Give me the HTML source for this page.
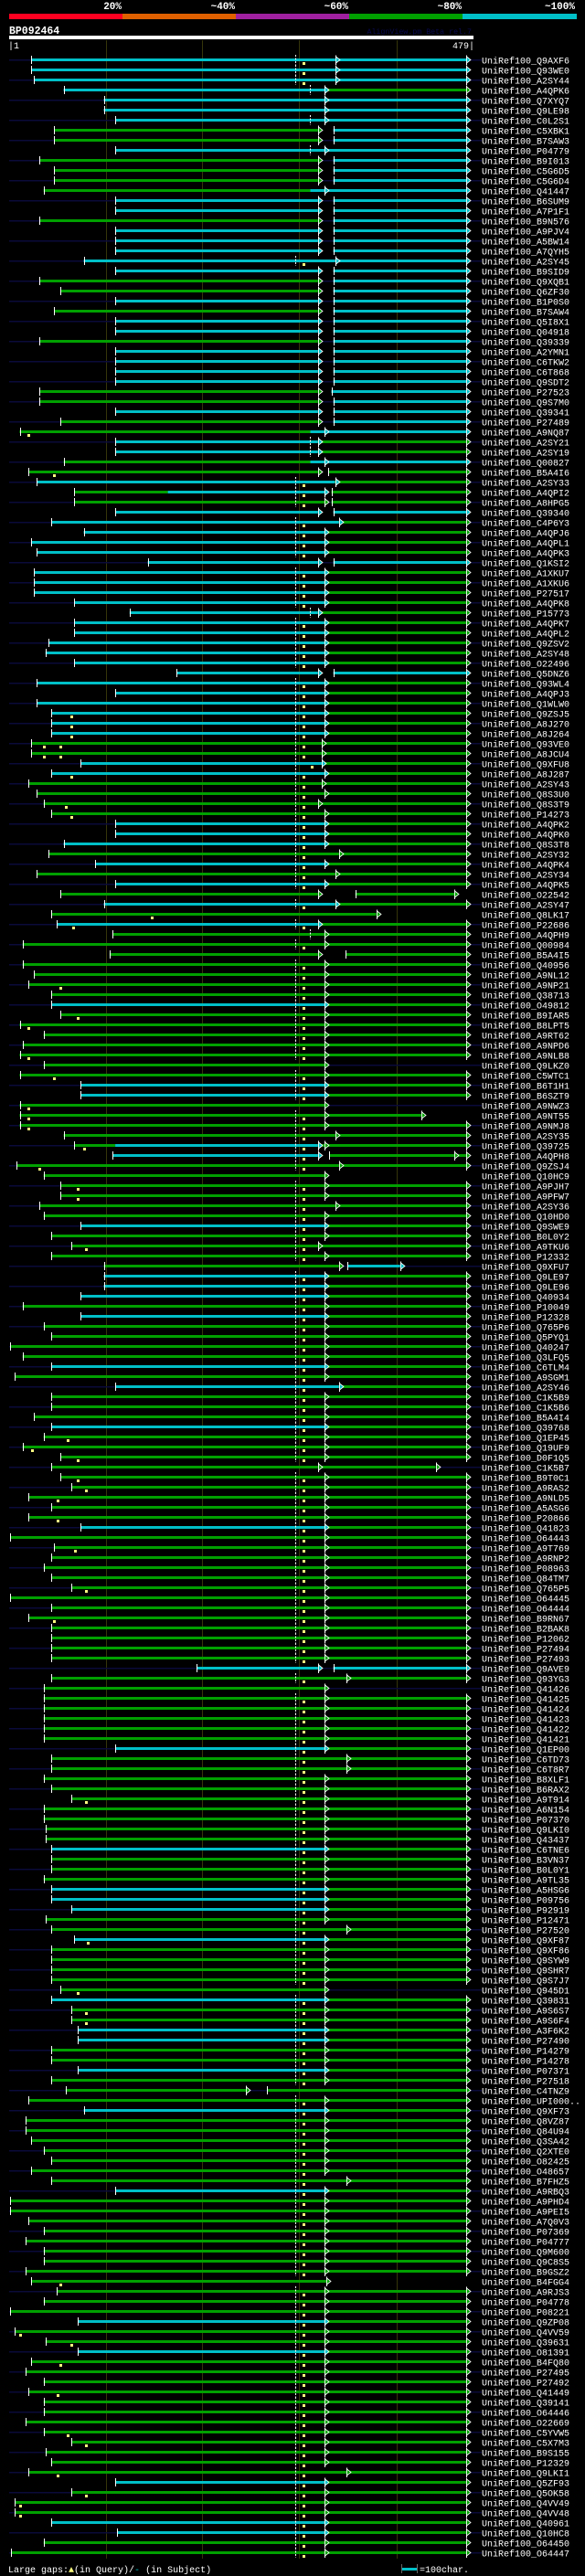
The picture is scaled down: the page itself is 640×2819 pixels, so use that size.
<!DOCTYPE html>
<html><head><meta charset="utf-8">
<style>
html,body{margin:0;padding:0;background:#000;}
svg{display:block;}
text{font-family:"Liberation Mono",monospace;}
</style></head>
<body>
<svg id="chart" width="640" height="2819" viewBox="0 0 640 2819" xmlns="http://www.w3.org/2000/svg">
<rect x="0" y="0" width="640" height="2819" fill="#000"/>
<g>
<rect x="10" y="15" width="124" height="6" fill="#ff0020"/>
<rect x="134" y="15" width="124" height="6" fill="#e06000"/>
<rect x="258" y="15" width="124" height="6" fill="#a020a0"/>
<rect x="382" y="15" width="124" height="6" fill="#00a000"/>
<rect x="506" y="15" width="125" height="6" fill="#00c0c8"/>
<text x="133" y="10" fill="#fff" font-size="11" font-weight="bold" text-anchor="end">20%</text>
<text x="257" y="10" fill="#fff" font-size="11" font-weight="bold" text-anchor="end">~40%</text>
<text x="381" y="10" fill="#fff" font-size="11" font-weight="bold" text-anchor="end">~60%</text>
<text x="505" y="10" fill="#fff" font-size="11" font-weight="bold" text-anchor="end">~80%</text>
<text x="629" y="10" fill="#fff" font-size="11" font-weight="bold" text-anchor="end">~100%</text>
</g>
<text x="10" y="37" fill="#fff" font-size="11.5" font-weight="bold">BP092464</text>
<text x="516" y="37" fill="#0a0a50" font-size="8.3" text-anchor="end">AlignView.pm Beta rel.7</text>
<rect x="10" y="39" width="508" height="4" fill="#fff"/>
<text x="9" y="53" fill="#fff" font-size="10">|1</text>
<text x="519" y="53" fill="#fff" font-size="10" text-anchor="end">479|</text>
<g id="grid"></g>
<g id="rows"></g>
<g>
<text x="9" y="2815" fill="#fff" font-size="10">Large gaps:<tspan fill="#ffff80">▲</tspan>(in Query)/<tspan fill="#00c0c8">-</tspan> (in Subject)</text>
<rect x="439" y="2810" width="17" height="3" fill="#00c0c8"/>
<rect x="439" y="2806" width="1" height="10" fill="#666"/>
<rect x="456" y="2806" width="1" height="10" fill="#666"/>
<text x="459" y="2815" fill="#fff" font-size="10">=100char.</text>
</g>
</svg>
<script>
const queryLength = [1, 479];
const gridTicks = [102, 203, 304, 406];
const names = [
"Q9AXF6","Q93WE0","A2SY44","A4QPK6","Q7XYQ7","Q9LE98","C0L2S1","C5XBK1","B7SAW3","P04779",
"B9I013","C5G6D5","C5G6D4","Q41447","B6SUM9","A7P1F1","B9N576","A9PJV4","A5BW14","A7QYH5",
"A2SY45","B9SID9","Q9XQB1","Q6ZF30","B1P0S0","B7SAW4","Q5I8X1","Q04918","Q39339","A2YMN1",
"C6TKW2","C6T868","Q9SDT2","P27523","Q9S7M0","Q39341","P27489","A9NQ87","A2SY21","A2SY19",
"Q00827","B5A4I6","A2SY33","A4QPI2","A8HPG5","Q39340","C4P6Y3","A4QPJ6","A4QPL1","A4QPK3",
"Q1KSI2","A1XKU7","A1XKU6","P27517","A4QPK8","P15773","A4QPK7","A4QPL2","Q9ZSV2","A2SY48",
"O22496","Q5DNZ6","Q93WL4","A4QPJ3","Q1WLW0","Q9ZSJ5","A8J270","A8J264","Q93VE0","A8JCU4",
"Q9XFU8","A8J287","A2SY43","Q8S3U0","Q8S3T9","P14273","A4QPK2","A4QPK0","Q8S3T8","A2SY32",
"A4QPK4","A2SY34","A4QPK5","O22542","A2SY47","Q8LK17","P22686","A4QPH9","Q00984","B5A4I5",
"Q40956","A9NL12","A9NP21","Q38713","O49812","B9IAR5","B8LPT5","A9RT62","A9NPD6","A9NLB8",
"Q9LKZ0","C5WTC1","B6T1H1","B6SZT9","A9NWZ3","A9NT55","A9NMJ8","A2SY35","Q39725","A4QPH8",
"Q9ZSJ4","Q10HC9","A9PJH7","A9PFW7","A2SY36","Q10HD0","Q9SWE9","B0L0Y2","A9TKU6","P12332",
"Q9XFU7","Q9LE97","Q9LE96","Q40934","P10049","P12328","Q765P6","Q5PYQ1","Q40247","Q3LFQ5",
"C6TLM4","A9SGM1","A2SY46","C1K5B9","C1K5B6","B5A4I4","Q39768","Q1EP45","Q19UF9","D0F1Q5",
"C1K5B7","B9T0C1","A9RAS2","A9NLD5","A5ASG6","P20866","Q41823","O64443","A9T769","A9RNP2",
"P08963","Q84TM7","Q765P5","O64445","O64444","B9RN67","B2BAK8","P12062","P27494","P27493",
"Q9AVE9","Q93YG3","Q41426","Q41425","Q41424","Q41423","Q41422","Q41421","Q1EP00","C6TD73",
"C6T8R7","B8XLF1","B6RAX2","A9T914","A6N154","P07370","Q9LKI0","Q43437","C6TNE6","B3VN37",
"B0L0Y1","A9TL35","A5HSG6","P09756","P92919","P12471","P27520","Q9XF87","Q9XF86","Q9SYW9",
"Q9SHR7","Q9S7J7","Q945D1","Q39831","A9S6S7","A9S6F4","A3F6K2","P27490","P14279","P14278",
"P07371","P27518","C4TNZ9","UPI000..","Q9XF73","Q8VZ87","Q84U94","Q3SA42","Q2XTE0","O82425",
"O48657","B7FHZ5","A9RBQ3","A9PHD4","A9PEI5","A7Q0V3","P07369","P04777","Q9M600","Q9C8S5",
"B9GSZ2","B4FGG4","A9RJS3","P04778","P08221","Q9ZP08","Q4VV59","Q39631","O81391","B4FQ80",
"P27495","P27492","Q41449","Q39141","O64446","O22669","C5YVW5","C5X7M3","B9S155","P12329",
"Q9LKI1","Q5ZF93","Q5OK58","Q4VV49","Q4VV48","Q40961","Q10HC8","O64450","O64447"
];
const aligns = [
"t24 c342> c479> d y","t24 c342> c479> d y","t27 c342> c479> d y","t58 c331> g479> e","t100 c331> c479>","t100 c331> c479>","t112 c331> c479> e","t48 W","t48 W","t112 c331> c479> e",
"t33 W","t48 W","t48 W","t37 g316 c331> c479>","t112 X","t112 X","t33 W","t112 X","t112 X","t112 X",
"t79 c342> c479> d y","t112 X","t33 W","t55 W","t112 X","t48 W","t112 X","t112 X","t33 W","t112 X",
"t112 X","t112 X","t112 X","t33 g324> t338 c479>","t33 W","t112 X","t55 W","t12 g316 c331> c479> y21","t112 c324> g479> e","t112 c324> g479> e",
"t58 g316 c331> c479>","t21 g324> t335 g479> y48","t30 c342> g479> d y","t69 g167 c331> t338 g479> d y","t69 g331> t338 g479> d y","t112 X","t45 c346> g479> d y","t79 C","t24 C","t30 C",
"t146 X","t27 C","t27 C","t27 C","t69 C","t127 c324> g479> e","t69 C","t69 C","t42 C","t39 C",
"t69 C","t176 X","t30 C","t112 C","t30 C","t45 C y66","t45 C y66","t45 C y66","t24 g328> g479> d y y37 y55","t24 g328> g479> d y y37 y55",
"t76 c328> g479> d y317","t45 C y66","t21 g328> g479> d y","t30 G","t37 g324> g479> d y y60","t45 G y66","t112 C","t112 C","t58 C","t42 g346> g479> d y",
"t91 C","t30 g342> g479> d y","t112 C","t55 g324> t363 g467>","t100 c342> g479> d y","t45 g385> y150","t51 c324> g479> d y y68","t109 g331> g479> e","t15 G","t106 g324> t353 g479>",
"t15 G","t27 G","t21 G y55","t45 G","t45 C","t55 G y73","t12 G y21","t37 G","t15 G","t12 G y21",
"t37 g331>","t12 G y48","t76 C","t76 C","t12 g331> y21","t12 g331> g432> d y y21","t12 G y21","t58 g342> g479> d y","t69 g112 c324> g331> g479> d y y79","t109 c324> t336 g467> g479> d y",
"t9 g346> g479> d y y33","t37 g331>","t55 G y73","t55 G y73","t33 g342> g479> d y","t37 G","t76 C","t45 G","t66 g324> g479> d y y81","t45 G",
"t100 g346> t355 c410>","t100 C","t100 C","t76 C","t15 G","t76 C","t37 G","t45 G","t2 G","t15 G",
"t45 C","t7 G","t112 c346> g479> d y","t45 G","t45 G","t27 G","t45 C","t37 G y62","t15 G y25","t55 G y73",
"t45 g324> g447>","t55 G y73","t66 G y81","t21 G y52","t45 G","t21 G y52","t76 C","t2 G","t48 G y70","t45 G",
"t37 G","t45 G","t66 G y81","t2 G","t45 G","t21 G y48","t45 G","t45 G","t45 G","t45 G",
"t197 X","t45 g354> g479> d y","t37 g331>","t37 G","t37 G","t37 G","t37 G","t37 G","t112 C","t45 g354> g479> d y",
"t45 g354> g479> d y","t37 G","t45 G","t66 G y81","t37 G","t37 G","t39 G","t39 G","t45 C","t45 G",
"t45 G","t37 G","t45 C","t45 C","t66 C","t39 G","t45 g354> g479> d y","t69 C y83","t45 G","t45 G",
"t45 G","t45 G","t55 g331> y73","t45 C","t66 G y81","t66 G y81","t73 C","t73 C","t45 G","t45 G",
"t73 C","t45 G","t60 g249> t271 g479>","t21 G","t79 C","t18 G","t18 G","t24 G","t37 G","t45 G",
"t24 G","t45 g354> g479> d y","t112 C","t2 G","t2 G","t21 G","t37 G","t18 G","t37 G","t37 G",
"t18 G","t24 g333> y55","t51 G","t37 G","t2 G","t73 C","t7 G y12","t39 G y66","t73 C","t24 G y55",
"t18 G","t37 G","t21 G y52","t37 G","t37 G","t18 G","t37 G y62","t66 G y81","t39 G","t45 G",
"t21 g354> g479> d y y52","t112 C","t66 G y81","t7 G y12","t7 G y12","t45 C","t114 C","t37 G","t3 G"
];
const shorthand = {G:"g331> g479> d y", C:"c331> g479> d y", X:"c324> t340 c479>", W:"g324> t340 c479>"};
const colors = {g:"#00a000", c:"#00c0c8"};

const NS = "http://www.w3.org/2000/svg";
const X0 = 10, X1 = 510;
function xScale(p){ return X0 + (p - queryLength[0]) * (X1 - X0) / (queryLength[1] - queryLength[0]); }
function yRow(i){ return 65.5 + i * 11; }
function mk(tag, attrs, parent){
  const el = document.createElementNS(NS, tag);
  for (const k in attrs) el.setAttribute(k, attrs[k]);
  parent.appendChild(el);
  return el;
}

const grid = document.getElementById('grid');
gridTicks.forEach(function(t){
  const gx = Math.round(xScale(t)) + 0.5;
  const ln = mk('line', {x1:gx, x2:gx, y1:44, y2:2800, stroke:'#35350a', 'stroke-width':1}, grid);
  
  
});

const rowsG = document.getElementById('rows');
names.forEach(function(nm, i){
  const y = yRow(i);
  const g = mk('g', {}, rowsG);
  
  
  if (i % 2 === 0) {
    const bg = mk('rect', {x:X0, y:y - 0.5, width:527 - X0, height:1.5, fill:'#0a0a3a'}, g);
    
    
  }
  let spec = aligns[i] || "";
  let toks = [];
  spec.split(/\s+/).forEach(function(t){
    if (shorthand[t]) toks = toks.concat(shorthand[t].split(' ')); else if (t) toks.push(t);
  });
  let cursor = null;
  const overlays = [];
  toks.forEach(function(t){
    let m;
    if (t === 'd') { overlays.push(['dash', 300]); return; }
    if (t === 'e') { overlays.push(['dash', 316]); return; }
    if (t === 'y') { overlays.push(['gap', 309]); return; }
    if ((m = t.match(/^y(\d+)$/))) { overlays.push(['gap', +m[1]]); return; }
    if ((m = t.match(/^t(\d+)$/))) { cursor = +m[1]; overlays.push(['tick', cursor]); return; }
    if ((m = t.match(/^([gc])(\d+)(>?)$/))) {
      const end = +m[2];
      const col = colors[m[1]];
      const xa = xScale(cursor), xb = xScale(end);
      const bar = mk('rect', {x:xa, y:y - 1.5, width:Math.max(0, xb - xa), height:3, fill:col}, g);
      
      
      if (m[3] === '>') overlays.push(['arrow', end, col]);
      cursor = end;
    }
  });
  overlays.forEach(function(o){
    const ox = Math.round(xScale(o[1])) + 0.5;
    if (o[0] === 'tick') {
      const tk = mk('line', {x1:ox, x2:ox, y1:y - 4.5, y2:y + 4.5, stroke:'#fff', 'stroke-width':1}, g);
      
      
    } else if (o[0] === 'arrow') {
      const vl = mk('line', {x1:ox, x2:ox, y1:y - 5, y2:y + 5.5, stroke:'#fff', 'stroke-width':1}, g);
      
      
      const tri = mk('polygon', {points:(ox) + ',' + (y - 3.5) + ' ' + (ox + 4.5) + ',' + y + ' ' + (ox) + ',' + (y + 3.5), fill:o[2], stroke:'#fff', 'stroke-width':0.8}, g);
      
      
    } else if (o[0] === 'dash') {
      const dl = mk('line', {x1:ox, x2:ox, y1:y - 5.5, y2:y + 5.5, stroke:'#fff', 'stroke-width':1, 'stroke-dasharray':'2,1.5'}, g);
      
      
    } else if (o[0] === 'gap') {
      const gm = mk('rect', {x:ox - 1.5, y:y + 2.5, width:3, height:3, fill:'#ffff80'}, g);
      
      
    }
  });
  const lb = mk('text', {x:527, y:y + 4, fill:'#fff', 'font-size':10}, g);
  
  
  lb.textContent = 'UniRef100_' + nm;
});
</script>
</body></html>
